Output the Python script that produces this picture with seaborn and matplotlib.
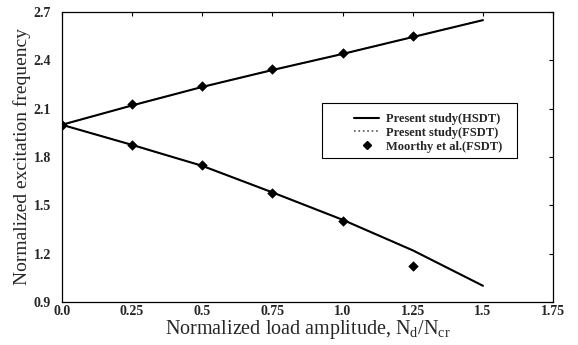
import matplotlib
matplotlib.use("Agg")
import matplotlib.pyplot as plt
import seaborn as sns
import pandas as pd
import numpy as np
from matplotlib.lines import Line2D
from matplotlib.patches import Rectangle

# Data
load_line = [0.0, 0.25, 0.5, 0.75, 1.0, 1.25, 1.5]
hsdt_upper = [2.0, 2.12, 2.235, 2.34, 2.44, 2.545, 2.65]
hsdt_lower = [2.0, 1.875, 1.745, 1.58, 1.41, 1.22, 1.0]
fsdt_upper = [2.0, 2.12, 2.235, 2.34, 2.44, 2.545, 2.65]
fsdt_lower = [2.0, 1.875, 1.745, 1.58, 1.41, 1.22, 1.0]

load_pts = [0.0, 0.25, 0.5, 0.75, 1.0, 1.25]
moorthy_upper = [2.0, 2.13, 2.24, 2.345, 2.445, 2.55]
moorthy_lower = [2.0, 1.875, 1.75, 1.575, 1.40, 1.12]

xticks = [0.0, 0.25, 0.5, 0.75, 1.0, 1.25, 1.5, 1.75]
xticklabels = ["0.0", "0.25", "0.5", "0.75", "1.0", "1.25", "1.5", "1.75"]
yticks = [0.9, 1.2, 1.5, 1.8, 2.1, 2.4, 2.7]
yticklabels = ["0.9", "1.2", "1.5", "1.8", "2.1", "2.4", "2.7"]

sns.set_theme(style="white")
plt.rcParams["font.family"] = ["Liberation Serif", "DejaVu Serif"]
plt.rcParams["mathtext.fontset"] = "custom"
plt.rcParams["mathtext.rm"] = "Liberation Serif"

fig = plt.figure(figsize=(5.78, 3.45), dpi=100)
ax = fig.add_axes([0.107, 0.125, 0.850, 0.840])

df_h = pd.DataFrame({"x": load_line * 2, "y": hsdt_upper + hsdt_lower,
                     "branch": ["u"] * 7 + ["l"] * 7})
df_f = pd.DataFrame({"x": load_line * 2, "y": fsdt_upper + fsdt_lower,
                     "branch": ["u"] * 7 + ["l"] * 7})
df_m = pd.DataFrame({"x": load_pts + load_pts, "y": moorthy_upper + moorthy_lower})

sns.lineplot(data=df_f, x="x", y="y", units="branch", estimator=None, ax=ax,
             color="#555555", linestyle=":", linewidth=1.0, zorder=1)
sns.lineplot(data=df_h, x="x", y="y", units="branch", estimator=None, ax=ax,
             color="black", linewidth=1.5, zorder=2)
sns.scatterplot(data=df_m, x="x", y="y", ax=ax, marker="D", s=24,
                color="black", edgecolor="black", zorder=3)

ax.set_xlim(0, 1.75)
ax.set_ylim(0.9, 2.7)
ax.set_xticks(xticks)
ax.set_xticklabels(xticklabels, fontsize=10, fontweight="bold")
ax.set_yticks(yticks)
ax.set_yticklabels(yticklabels, fontsize=10, fontweight="bold")
ax.tick_params(direction="in", top=True, right=True, length=3, width=0.8,
               color="black", pad=2)
for lbl in ax.get_yticklabels():
    lbl.set_horizontalalignment("center")
ax.tick_params(axis="y", pad=14)
for s in ax.spines.values():
    s.set_color("black")
    s.set_linewidth(0.9)

ax.set_xlabel(r"Normalized load amplitude, N$_\mathrm{d}$/N$_\mathrm{cr}$",
              fontsize=14.5, labelpad=0)
ax.set_ylabel("Normalized excitation frequency", fontsize=14, labelpad=2)

# legend box
ax.add_patch(Rectangle((0.53, 0.497), 0.397, 0.189, transform=ax.transAxes,
                       facecolor="white", edgecolor="black", linewidth=0.8,
                       zorder=4))
handles = [
    Line2D([], [], color="black", linewidth=1.5),
    Line2D([], [], color="#555555", linestyle=":", linewidth=1.2),
    Line2D([], [], color="black", marker="D", markersize=4.5, linestyle="none"),
]
labels = ["Present study(HSDT)", "Present study(FSDT)", "Moorthy et al.(FSDT)"]
leg = ax.legend(handles, labels, loc="upper left",
                bbox_to_anchor=(0.595, 0.652),
                prop={"family": "Liberation Serif", "weight": "bold", "size": 9},
                frameon=False, borderpad=0, labelspacing=0.15,
                handlelength=2.0, handletextpad=0.55, borderaxespad=0)
leg.set_zorder(5)

fig.savefig("out.png", dpi=100)
